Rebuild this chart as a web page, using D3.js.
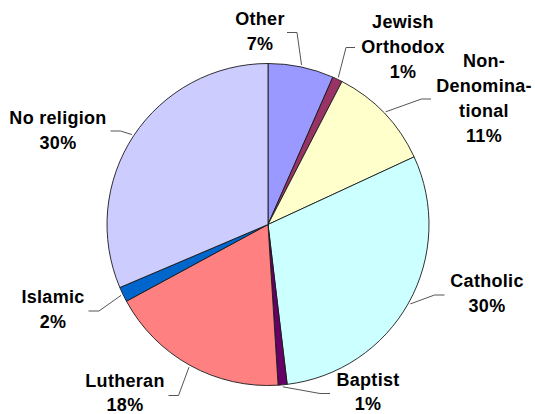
<!DOCTYPE html>
<html>
<head>
<meta charset="utf-8">
<script src="https://cdn.jsdelivr.net/npm/d3@7"></script>
<style>
body { margin: 0; background: #fff; }
</style>
</head>
<body>
<div id="chart"></div>
<script>
//Width and height
var w = 535;
var h = 414;

//Dataset (clockwise from 12 o'clock)
var categories = ["Other", "Jewish Orthodox", "Non-Denominational", "Catholic", "Baptist", "Lutheran", "Islamic", "No religion"];
var shares = [6.6, 1.0, 10.5, 30.0, 0.9, 18.1, 1.5, 31.4];
var pctLabels = ["7%", "1%", "11%", "30%", "1%", "18%", "2%", "30%"];
//how the names wrap in the picture
var nameLines = [["Other"], ["Jewish", "Orthodox"], ["Non-", "Denomina-", "tional"], ["Catholic"], ["Baptist"], ["Lutheran"], ["Islamic"], ["No religion"]];

var colors = ["#9999FF", "#993366", "#FFFFCC", "#CCFFFF", "#660066", "#FF8080", "#0066CC", "#CCCCFF"];

//Label placement: centre x, first baseline, line step, leader [outer x, elbow x, y]
var layout = [
  {x: 260, y: 25,  step: 25, lead: [287, 297, 32.5]},
  {x: 403, y: 28,  step: 25, lead: [355, 346, 47.5]},
  {x: 484, y: 66.5, step: 25, lead: [431, 421.5, 99]},
  {x: 487, y: 287, step: 25, lead: [444.5, 434.5, 295]},
  {x: 368, y: 386, step: 23.5, lead: [330, 320, 393.5]},
  {x: 125, y: 387, step: 23.5, lead: [168.5, 178.5, 395.5]},
  {x: 53,  y: 303, step: 25, lead: [88.5, 99, 311]},
  {x: 58,  y: 123.5, step: 25, lead: [110.5, 120.5, 131]}
];

var cx = 268, cy = 224.5, r = 161;

var svg = d3.select("#chart")
.append("svg")
.attr("width", w)
.attr("height", h);

var pie = d3.pie()
.sort(null)
.value(function(d) { return d; });

var arcs = pie(shares);

var arc = d3.arc()
.innerRadius(0)
.outerRadius(r);

//point on the rim at the middle of each slice
var rimArc = d3.arc()
.innerRadius(r + 2)
.outerRadius(r + 2);

var g = svg.append("g")
.attr("transform", "translate(" + cx + "," + cy + ")");

g.selectAll("path")
.data(arcs)
.enter()
.append("path")
.attr("d", arc)
.attr("fill", function(d, i) { return colors[i]; })
.attr("stroke", "#1a1a1a")
.attr("stroke-width", 0.9)
.attr("stroke-linejoin", "round");

//Leader lines
svg.append("g")
.selectAll("polyline")
.data(arcs)
.enter()
.append("polyline")
.attr("points", function(d, i) {
  var p = rimArc.centroid(d);
  var L = layout[i].lead;
  return [[L[0], L[2]], [L[1], L[2]], [p[0] + cx, p[1] + cy]].join(" ");
})
.attr("fill", "none")
.attr("stroke", "#555")
.attr("stroke-width", 1);

//Labels
var labels = svg.append("g")
.selectAll("text")
.data(arcs)
.enter()
.append("text")
.attr("text-anchor", "middle")
.attr("font-family", "'Liberation Sans', Arial, sans-serif")
.attr("font-weight", "bold")
.attr("font-size", 18)
.attr("letter-spacing", 0.3)
.attr("fill", "#000");

labels.each(function(d, i) {
  var t = d3.select(this);
  var lines = nameLines[i].concat([pctLabels[i]]);
  lines.forEach(function(s, k) {
    t.append("tspan")
    .attr("x", layout[i].x)
    .attr("y", layout[i].y + k * layout[i].step)
    .text(s);
  });
});
</script>
</body>
</html>
